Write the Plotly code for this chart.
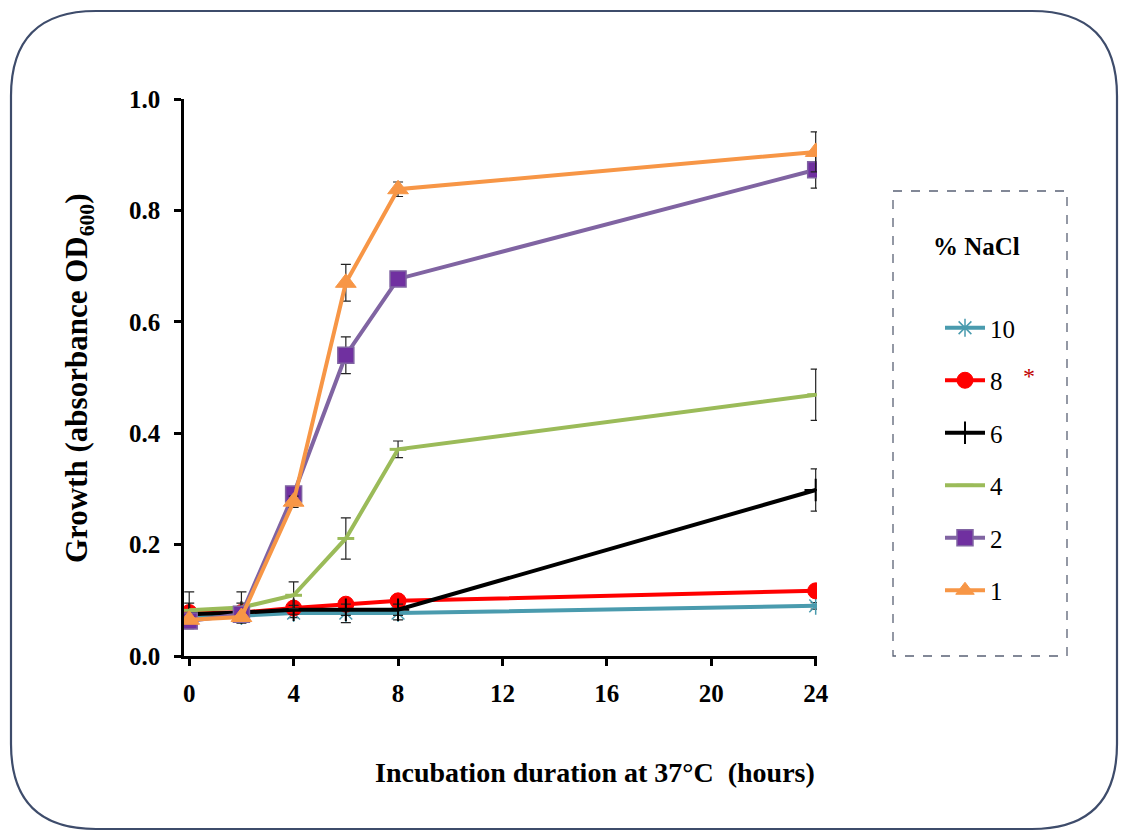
import plotly.graph_objects as go

hours = [0, 2, 4, 6, 8, 24]
series_names = ["10", "8", "6", "4", "2", "1"]
nacl10 = [0.068, 0.072, 0.077, 0.077, 0.077, 0.090]
err10 = [0.005, 0.005, 0.008, 0.017, 0.012, 0.006]
nacl8 = [0.078, 0.078, 0.086, 0.093, 0.099, 0.117]
err8 = [0.017, 0.017, 0.005, 0.006, 0.005, 0.005]
nacl6 = [0.075, 0.078, 0.083, 0.083, 0.083, 0.298]
err6 = [0.008, 0.008, 0.008, 0.010, 0.010, 0.038]
nacl4 = [0.082, 0.087, 0.109, 0.211, 0.371, 0.469]
err4 = [0.033, 0.028, 0.024, 0.037, 0.015, 0.046]
nacl2 = [0.063, 0.075, 0.291, 0.540, 0.677, 0.873]
err2 = [0.005, 0.005, 0.010, 0.033, 0.010, 0.033]
nacl1 = [0.065, 0.070, 0.277, 0.670, 0.838, 0.905]
err1 = [0.005, 0.005, 0.010, 0.033, 0.013, 0.036]

# figure geometry (pixels)
W, H = 1129, 834
ML, MR, MT, MB = 184, 312, 99, 178
PW, PH = W - ML - MR, H - MT - MB

def px(x):
    return (x - ML) / PW

def py(y):
    return (H - MB - y) / PH

serif = "Liberation Serif"

styles = [
    dict(line=dict(color="#4A9BAE", width=4),
         marker=dict(symbol="asterisk-open", size=15, line=dict(color="#4A9BAE", width=1.5))),
    dict(line=dict(color="#FF0000", width=4),
         marker=dict(symbol="circle", size=16, color="#FF0000", line=dict(color="#FF0000", width=1))),
    dict(line=dict(color="#000000", width=4),
         marker=dict(symbol="cross-thin-open", size=16, line=dict(color="#000000", width=2))),
    dict(line=dict(color="#9BBB59", width=4),
         marker=dict(symbol="line-ew-open", size=12, line=dict(color="#9BBB59", width=3))),
    dict(line=dict(color="#8064A2", width=4),
         marker=dict(symbol="square", size=16, color="#7030A0", line=dict(color="#8064A2", width=1.5))),
    dict(line=dict(color="#F79646", width=4),
         marker=dict(symbol="triangle-up", size=18, color="#F79646", line=dict(color="#F79646", width=1))),
]
values = [nacl10, nacl8, nacl6, nacl4, nacl2, nacl1]
errors = [err10, err8, err6, err4, err2, err1]

fig = go.Figure()
for i, (name, vals, errs, st) in enumerate(zip(series_names, values, errors, styles)):
    fig.add_trace(go.Scatter(
        x=hours, y=vals, name=name, mode="lines+markers",
        line=st["line"], marker=st["marker"],
        error_y=dict(type="data", array=errs, visible=True, color="#222222", thickness=1.2, width=5),
        legendgroup=f"g{i}",
    ))

# outer rounded frame
x0, y0, x1, y1, r = 11, 11, 1117, 829, 85
def P(x, y):
    return f"{px(x):.5f},{py(y):.5f}"
path = (f"M {P(x0 + r, y0)} L {P(x1 - r, y0)} Q {P(x1, y0)} {P(x1, y0 + r)} "
        f"L {P(x1, y1 - r)} Q {P(x1, y1)} {P(x1 - r, y1)} "
        f"L {P(x0 + r, y1)} Q {P(x0, y1)} {P(x0, y1 - r)} "
        f"L {P(x0, y0 + r)} Q {P(x0, y0)} {P(x0 + r, y0)} Z")

shapes = [
    dict(type="path", xref="paper", yref="paper", path=path,
         line=dict(color="#3E4C6B", width=2.2), layer="below"),
    dict(type="rect", xref="paper", yref="paper",
         x0=px(893), x1=px(1067), y0=py(191), y1=py(656),
         line=dict(color="#5A6275", width=1.3, dash="dash")),
]

annotations = [
    dict(text="Incubation duration at 37°C  (hours)", xref="paper", yref="paper",
         x=px(595), y=py(772), showarrow=False,
         font=dict(family=serif, size=28, color="black", weight="bold"),
         xanchor="center", yanchor="middle"),
    dict(text="Growth (absorbance OD<sub>600</sub>)", xref="paper", yref="paper",
         x=px(79), y=py(378), showarrow=False, textangle=-90,
         font=dict(family=serif, size=31, color="black", weight="bold"),
         xanchor="center", yanchor="middle"),
    dict(text="% NaCl", xref="paper", yref="paper", x=px(976), y=py(246),
         showarrow=False, font=dict(family=serif, size=25, color="black", weight="bold"),
         xanchor="center", yanchor="middle"),
    dict(text="*", xref="paper", yref="paper", x=px(1029), y=py(376),
         showarrow=False, font=dict(family=serif, size=24, color="#C00000"),
         xanchor="center", yanchor="middle"),
]

tickfont = dict(family=serif, size=25, color="black", weight="bold")

fig.update_layout(
    width=W, height=H,
    margin=dict(l=ML, r=MR, t=MT, b=MB, autoexpand=False),
    paper_bgcolor="white", plot_bgcolor="white",
    showlegend=True,
    legend=dict(x=px(940), y=py(305), xanchor="left", yanchor="top",
                font=dict(family=serif, size=25, color="black"),
                bgcolor="rgba(0,0,0,0)", traceorder="grouped", tracegroupgap=17,
                itemwidth=40),
    shapes=shapes, annotations=annotations,
    xaxis=dict(range=[-0.2, 24.05], tickvals=[0, 4, 8, 12, 16, 20, 24],
               showgrid=False, zeroline=False, showline=True, linecolor="black", linewidth=2.5,
               ticks="outside", ticklen=7, tickwidth=2.5, tickcolor="black",
               tickfont=tickfont, ticklabelstandoff=6),
    yaxis=dict(range=[0, 1.0], tickvals=[0, 0.2, 0.4, 0.6, 0.8, 1.0], tickformat=".1f",
               showgrid=False, zeroline=False, showline=True, linecolor="black", linewidth=2.5,
               ticks="outside", ticklen=7, tickwidth=2.5, tickcolor="black",
               tickfont=tickfont, ticklabelstandoff=9),
)

fig.write_html("out.html")
